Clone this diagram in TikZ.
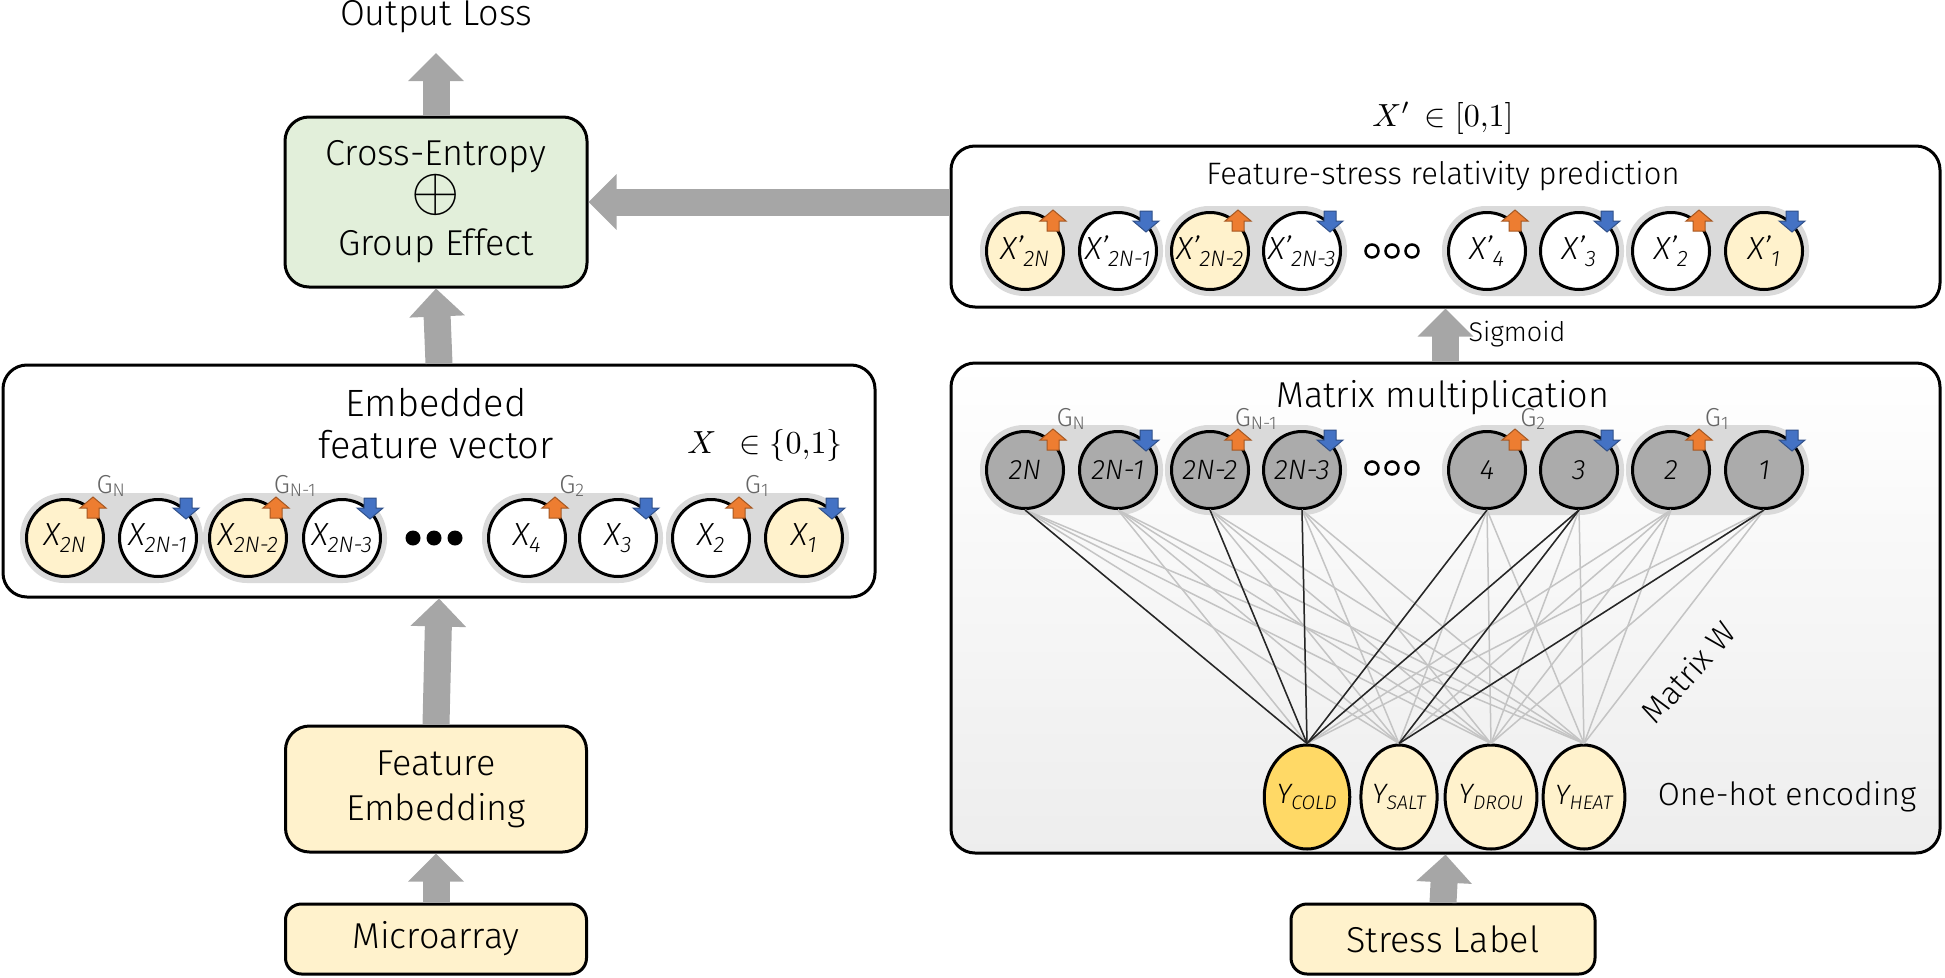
\documentclass[tikz,border=0pt]{standalone}
\usepackage{graphicx}
\usepackage{fontspec}
\setmainfont{Fira Sans Light}[ItalicFont={Fira Sans Light Italic}]
\usetikzlibrary{arrows.meta, shapes.geometric}

\definecolor{flowgray}{HTML}{A6A6A6}
\definecolor{paleyellow}{HTML}{FFF2CC}
\definecolor{coldgold}{HTML}{FFD966}
\definecolor{palegreen}{HTML}{E2EFDA}
\definecolor{pillgray}{HTML}{DADADA}
\definecolor{unitgray}{HTML}{ABABAB}
\definecolor{uporange}{HTML}{ED7D31}
\definecolor{downblue}{HTML}{4472C4}
\definecolor{wiregray}{HTML}{C4C4C4}
\definecolor{labelgray}{HTML}{666666}

% small up / down marks on a unit
\newcommand{\upmark}[1]{\path (#1.center) ++(28,-30) coordinate (tagpt);
  \filldraw[fill=uporange, draw=uporange!70!black, line width=1pt, shift={(tagpt)}]
    (-6,10) -- (-6,0) -- (-13,0) -- (0,-11) -- (13,0) -- (6,0) -- (6,10) -- cycle;}
\newcommand{\downmark}[1]{\path (#1.center) ++(28,-30) coordinate (tagpt);
  \filldraw[fill=downblue, draw=downblue!70!black, line width=1pt, shift={(tagpt)}]
    (-6,-10) -- (-6,0) -- (-13,0) -- (0,11) -- (13,0) -- (6,0) -- (6,-10) -- cycle;}
% grey band behind a pair of units
\newcommand{\pill}[3]{\fill[pillgray, rounded corners=44pt] (#1-45,#3-45) rectangle (#2+45,#3+45);}

\begin{document}
\begin{tikzpicture}[x=1pt, y=-1pt,
    box/.style={draw, line width=3pt, rounded corners=24pt},
    lbl/.style={font=\fontsize{36}{45}\selectfont, align=center},
    small/.style={font=\fontsize{30}{36}\selectfont, align=center},
    glabel/.style={text=labelgray, font=\fontsize{26}{28}\selectfont, inner sep=0pt},
    unit/.style={circle, draw, line width=3pt, minimum size=77pt, inner sep=0pt,
                 fill=white, font=\fontsize{32}{34}\selectfont\itshape},
    munit/.style={unit, fill=unitgray, font=\fontsize{28}{30}\selectfont\itshape},
    ynode/.style={ellipse, draw, line width=3pt, minimum width=72pt, minimum height=104pt,
                  inner sep=0pt, fill=paleyellow, font=\fontsize{28}{30}\selectfont\itshape},
    flow/.style={line width=27pt, draw=flowgray, -{Triangle[length=28pt, width=54pt]}},
    wire/.style={draw=wiregray, line width=1.5pt},
    strongwire/.style={draw=black!85, line width=1.5pt},
    opendot/.style={circle, draw, line width=2.5pt, minimum size=13pt, inner sep=0pt},
    fulldot/.style={circle, fill, minimum size=15pt, inner sep=0pt}]

    \useasboundingbox (0,0) rectangle (1945,977);

    % left column
    \node[lbl] (loss) at (436,17) {Output Loss};
    \coordinate (losstip) at (436,53);
    \node[box, lbl, fill=palegreen, minimum width=302pt, minimum height=170pt] (ce) at (436,202)
        {Cross-Entropy\\\scalebox{2.5}{$\oplus$}\\Group Effect};

    \node[box, minimum width=872pt, minimum height=232pt] (emb) at (439,481) {};
    \node[lbl, font=\fontsize{38}{42}\selectfont] (embtxt) at (436,424) {Embedded\\feature vector};
    \node (xset) at (765,445) {\scalebox{3.2}{$X\;\,\in\{0{,}1\}$}};

    \pill{65}{158}{538}
    \pill{248}{342}{538}
    \pill{527}{618}{538}
    \pill{711}{804}{538}
    \node[glabel, anchor=base] (gn)  at (111,493) {G\textsubscript{N}};
    \node[glabel, anchor=base] (gn1) at (295,493) {G\textsubscript{N-1}};
    \node[glabel, anchor=base] (g2)  at (572,493) {G\textsubscript{2}};
    \node[glabel, anchor=base] (g1)  at (757,493) {G\textsubscript{1}};

    \node[unit, fill=paleyellow] (x2n)  at (65,538)  {X\textsubscript{2N}};
    \node[unit]                  (x2n1) at (158,538) {X\textsubscript{2N-1}};
    \node[unit, fill=paleyellow] (x2n2) at (248,538) {X\textsubscript{2N-2}};
    \node[unit]                  (x2n3) at (342,538) {X\textsubscript{2N-3}};
    \node[fulldot] (d1) at (413,538) {};
    \node[fulldot] (d2) at (434,538) {};
    \node[fulldot] (d3) at (455,538) {};
    \node[unit]                  (x4) at (527,538) {X\textsubscript{4}};
    \node[unit]                  (x3) at (618,538) {X\textsubscript{3}};
    \node[unit]                  (x2) at (711,538) {X\textsubscript{2}};
    \node[unit, fill=paleyellow] (x1) at (804,538) {X\textsubscript{1}};
    \upmark{x2n} \downmark{x2n1} \upmark{x2n2} \downmark{x2n3}
    \upmark{x4} \downmark{x3} \upmark{x2} \downmark{x1}

    \node[box, lbl, fill=paleyellow, minimum width=301pt, minimum height=126pt] (fe) at (436,789)
        {Feature\\Embedding};
    \node[box, lbl, fill=paleyellow, rounded corners=16pt, minimum width=301pt, minimum height=70pt] (micro) at (436,939)
        {Microarray};

    \draw[flow] (ce.north) -- (losstip);
    \draw[flow] (emb.north) -- (ce.south);
    \draw[flow] (fe.north) -- (emb.south);
    \draw[flow] (micro.north) -- (fe.south);

    % right column
    \node (xprime) at (1443,118) {\scalebox{3.2}{$X'\,\in[0{,}1]$}};
    \node[box, minimum width=989pt, minimum height=161pt] (fs) at (1445.5,226.5) {};
    \node[small, font=\fontsize{31}{36}\selectfont] (fstxt) at (1443,176) {Feature-stress relativity prediction};

    \pill{1025}{1118}{251}
    \pill{1210}{1302}{251}
    \pill{1487}{1579}{251}
    \pill{1671}{1764}{251}
    \node[unit, fill=paleyellow] (p2n)  at (1025,251) {X’\textsubscript{2N}};
    \node[unit]                  (p2n1) at (1118,251) {X’\textsubscript{2N-1}};
    \node[unit, fill=paleyellow] (p2n2) at (1210,251) {X’\textsubscript{2N-2}};
    \node[unit]                  (p2n3) at (1302,251) {X’\textsubscript{2N-3}};
    \node[opendot] (o1) at (1372,251) {};
    \node[opendot] (o2) at (1392,251) {};
    \node[opendot] (o3) at (1412,251) {};
    \node[unit]                  (p4) at (1487,251) {X’\textsubscript{4}};
    \node[unit]                  (p3) at (1579,251) {X’\textsubscript{3}};
    \node[unit]                  (p2) at (1671,251) {X’\textsubscript{2}};
    \node[unit, fill=paleyellow] (p1) at (1764,251) {X’\textsubscript{1}};
    \upmark{p2n} \downmark{p2n1} \upmark{p2n2} \downmark{p2n3}
    \upmark{p4} \downmark{p3} \upmark{p2} \downmark{p1}

    \node[box, top color=white, bottom color=black!7, minimum width=989pt, minimum height=490pt] (mm) at (1445.5,608) {};
    \node[lbl] (mmtxt) at (1443,398) {Matrix multiplication};

    \pill{1025}{1118}{470}
    \pill{1210}{1302}{470}
    \pill{1487}{1579}{470}
    \pill{1671}{1764}{470}
    \node[glabel, anchor=base] (mgn)  at (1071,426) {G\textsubscript{N}};
    \node[glabel, anchor=base] (mgn1) at (1256,426) {G\textsubscript{N-1}};
    \node[glabel, anchor=base] (mg2)  at (1533,426) {G\textsubscript{2}};
    \node[glabel, anchor=base] (mg1)  at (1717,426) {G\textsubscript{1}};

    \node[munit] (m2n)  at (1025,470) {2N};
    \node[munit] (m2n1) at (1118,470) {2N-1};
    \node[munit] (m2n2) at (1210,470) {2N-2};
    \node[munit] (m2n3) at (1302,470) {2N-3};
    \node[opendot] (q1) at (1372,468) {};
    \node[opendot] (q2) at (1392,468) {};
    \node[opendot] (q3) at (1412,468) {};
    \node[munit] (m4) at (1487,470) {4};
    \node[munit] (m3) at (1579,470) {3};
    \node[munit] (m2) at (1671,470) {2};
    \node[munit] (m1) at (1764,470) {1};
    \upmark{m2n} \downmark{m2n1} \upmark{m2n2} \downmark{m2n3}
    \upmark{m4} \downmark{m3} \upmark{m2} \downmark{m1}

    \node[ynode, fill=coldgold] (ycold) at (1307,797) {Y\textsubscript{COLD}};
    \node[ynode] (ysalt) at (1399,797) {Y\textsubscript{SALT}};
    \node[ynode] (ydrou) at (1491,797) {Y\textsubscript{DROU}};
    \node[ynode] (yheat) at (1584,797) {Y\textsubscript{HEAT}};
    \node[small, font=\fontsize{32}{36}\selectfont] (onehot) at (1787,797) {One-hot encoding};
    \node[small, font=\fontsize{32}{36}\selectfont, rotate=48] (matw) at (1688,672) {Matrix W};

    \foreach \m in {m2n,m2n1,m2n2,m2n3,m4,m3,m2,m1}
        \foreach \y in {ycold,ysalt,ydrou,yheat}
            \draw[wire] (\m.south) -- (\y.north);
    \foreach \m in {m2n,m2n2,m2n3,m4,m3}
        \draw[strongwire] (\m.south) -- (ycold.north);
    \foreach \m in {m3,m1}
        \draw[strongwire] (\m.south) -- (ysalt.north);

    \node[box, lbl, fill=paleyellow, rounded corners=16pt, minimum width=304pt, minimum height=70pt] (stress) at (1443,939)
        {Stress Label};
    \node[small, font=\fontsize{27}{30}\selectfont] (sig) at (1517,334) {Sigmoid};

    \draw[flow] (stress.north) -- (mm.south);
    \draw[flow] (mm.north) -- (fs.south);
    \draw[flow] (fs.west |- ce.east) -- (ce.east);
\end{tikzpicture}
\end{document}
